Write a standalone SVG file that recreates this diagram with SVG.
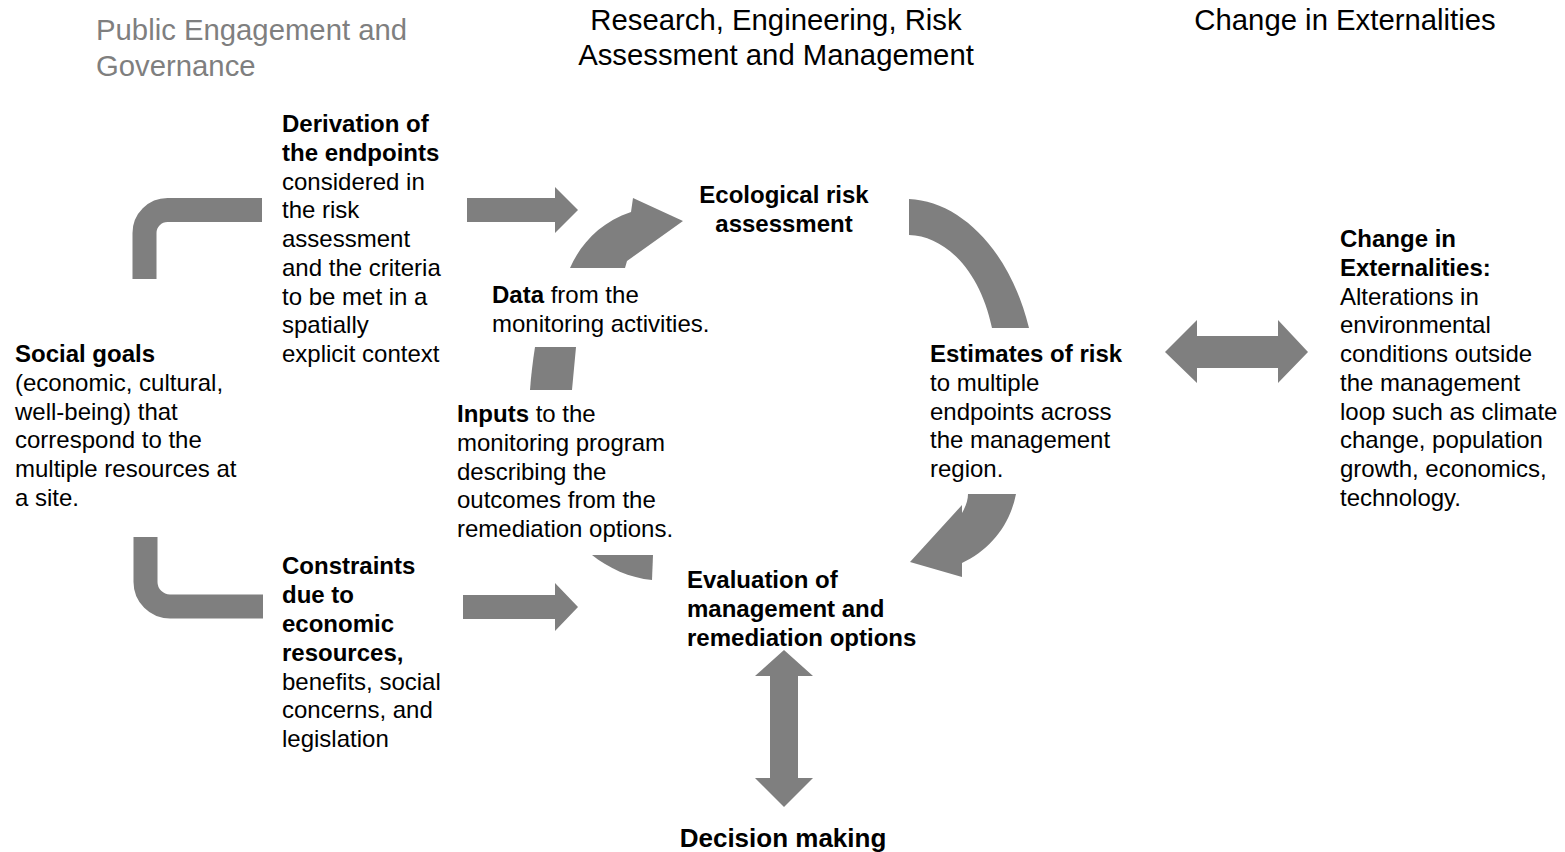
<svg xmlns="http://www.w3.org/2000/svg" width="1565" height="852" viewBox="0 0 1565 852">
<style>
text{font-family:"Liberation Sans",Arial,sans-serif;font-size:24px;fill:#000}
.h{font-size:29.3px;fill:#000}
.hg{fill:#7f7f7f}
.b{font-weight:bold}
.a{fill:#7f7f7f;stroke:none}
.e{fill:none;stroke:#7f7f7f;stroke-width:24}
</style>
<rect width="1565" height="852" fill="#fff"/>
<g id="connectors">
<path class="e" d="M144.5,279 V233 A23,23 0 0 1 167.5,210 H262"/>
<path class="e" d="M145.5,537 V582 A24.5,24.5 0 0 0 170,606.5 H263"/>
<path class="a" d="M467,198 H555 V187 L578,210 L555,233 V222 H467 Z"/>
<path class="a" d="M463,595 H555 V583 L578,607 L555,631 V619 H463 Z"/>
<path class="a" d="M570,268 C580,245 600,222 631,212 L633,198 L683,221 L627,261 L625,268 Z"/>
<path class="a" d="M909,199 C960,201 1010,250 1029,328 L992,328 C980,270 945,236 909,235 Z"/>
<path class="a" d="M535,347 L576,347 L572,390 L530,390 C531,375 533,360 535,347 Z"/>
<path class="a" d="M592,555 L653,555 L652,580 C630,578 608,568 592,555 Z"/>
<path class="a" d="M968,494 L1016,494 C1010,525 990,550 962,563 L962,577 L910,562 L962,505 L962,513 C966,506 968,500 968,494 Z"/>
<path class="a" d="M1165,352 L1197,320 V336 H1278 V320 L1308,352 L1278,383 V368 H1197 V383 Z"/>
<path class="a" d="M784,650 L813,676 H798 V778 H813 L784,807 L755,778 H770 V676 H755 Z"/>
</g>
<g id="header-public">
<text class="h hg" x="96" y="40">Public Engagement and</text>
<text class="h hg" x="96" y="76">Governance</text>
</g>
<g id="header-research">
<text class="h" x="776" y="30" text-anchor="middle">Research, Engineering, Risk</text>
<text class="h" x="776" y="65" text-anchor="middle">Assessment and Management</text>
</g>
<g id="header-change">
<text class="h" x="1345" y="30" text-anchor="middle">Change in Externalities</text>
</g>
<g id="node-derivation">
<text x="282" y="132" class="b">Derivation of</text>
<text x="282" y="161" class="b">the endpoints</text>
<text x="282" y="190">considered in</text>
<text x="282" y="218">the risk</text>
<text x="282" y="247">assessment</text>
<text x="282" y="276">and the criteria</text>
<text x="282" y="305">to be met in a</text>
<text x="282" y="333">spatially</text>
<text x="282" y="362">explicit context</text>
</g>
<g id="node-ecological">
<text x="784" y="203" text-anchor="middle" class="b">Ecological risk</text>
<text x="784" y="232" text-anchor="middle" class="b">assessment</text>
</g>
<g id="node-data">
<text x="492" y="303"><tspan class="b">Data</tspan> from the</text>
<text x="492" y="332">monitoring activities.</text>
</g>
<g id="node-social">
<text x="15" y="362" class="b">Social goals</text>
<text x="15" y="391">(economic, cultural,</text>
<text x="15" y="420">well-being) that</text>
<text x="15" y="448">correspond to the</text>
<text x="15" y="477">multiple resources at</text>
<text x="15" y="506">a site.</text>
</g>
<g id="node-estimates">
<text x="930" y="362" class="b">Estimates of risk</text>
<text x="930" y="391">to multiple</text>
<text x="930" y="420">endpoints across</text>
<text x="930" y="448">the management</text>
<text x="930" y="477">region.</text>
</g>
<g id="node-externalities">
<text x="1340" y="247" class="b">Change in</text>
<text x="1340" y="276" class="b">Externalities:</text>
<text x="1340" y="305">Alterations in</text>
<text x="1340" y="333">environmental</text>
<text x="1340" y="362">conditions outside</text>
<text x="1340" y="391">the management</text>
<text x="1340" y="420">loop such as climate</text>
<text x="1340" y="448">change, population</text>
<text x="1340" y="477">growth, economics,</text>
<text x="1340" y="506">technology.</text>
</g>
<g id="node-inputs">
<text x="457" y="422"><tspan class="b">Inputs</tspan> to the</text>
<text x="457" y="451">monitoring program</text>
<text x="457" y="480">describing the</text>
<text x="457" y="508">outcomes from the</text>
<text x="457" y="537">remediation options.</text>
</g>
<g id="node-constraints">
<text x="282" y="574" class="b">Constraints</text>
<text x="282" y="603" class="b">due to</text>
<text x="282" y="632" class="b">economic</text>
<text x="282" y="661" class="b">resources,</text>
<text x="282" y="690">benefits, social</text>
<text x="282" y="718">concerns, and</text>
<text x="282" y="747">legislation</text>
</g>
<g id="node-evaluation">
<text x="687" y="588" class="b">Evaluation of</text>
<text x="687" y="617" class="b">management and</text>
<text x="687" y="646" class="b">remediation options</text>
</g>
<g id="node-decision">
<text x="783" y="847" text-anchor="middle" class="b" style="font-size:26px">Decision making</text>
</g>
</svg>
